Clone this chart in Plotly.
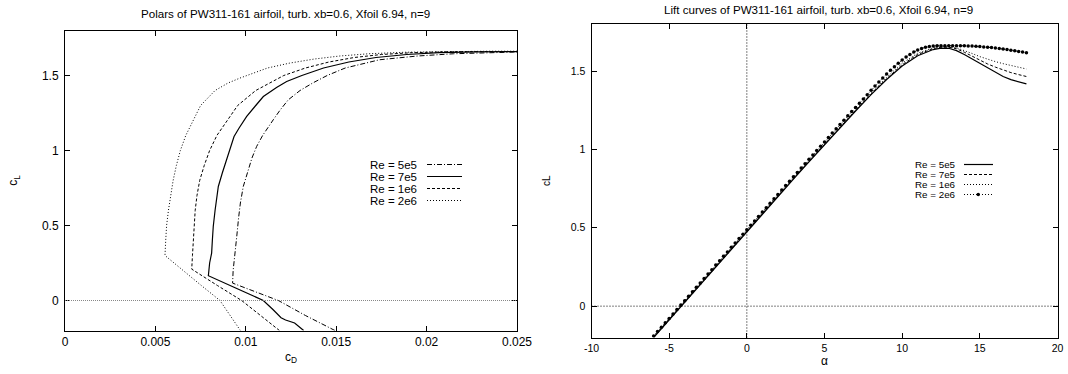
import plotly.graph_objects as go

# ---------------- data: polars (cD vs cL) ----------------
re_labels = ["Re = 5e5", "Re = 7e5", "Re = 1e6", "Re = 2e6"]

cd_5e5 = [0.01493, 0.0133, 0.0118, 0.0105, 0.00927, 0.0093, 0.0094, 0.0095, 0.0096, 0.0097, 0.00986,
          0.01008, 0.01034, 0.0106, 0.01093, 0.01152, 0.0119, 0.01235, 0.0130, 0.0137, 0.0145, 0.0155,
          0.0174, 0.0195, 0.0215, 0.0248, 0.0270]
cl_5e5 = [-0.20, -0.10, 0.0, 0.06, 0.116, 0.20, 0.30, 0.427, 0.55, 0.65, 0.76,
          0.85, 0.95, 1.027, 1.10, 1.205, 1.27, 1.338, 1.40, 1.45, 1.50, 1.55,
          1.605, 1.63, 1.645, 1.656, 1.66]

cd_7e5 = [0.0132, 0.0127, 0.0122, 0.01195, 0.0115, 0.01097, 0.0095, 0.00793, 0.0080, 0.00811, 0.00815,
          0.0082, 0.0083, 0.0084, 0.00848, 0.0087, 0.00894, 0.0091, 0.00935, 0.00963, 0.01005, 0.01055,
          0.01097, 0.0117, 0.01226, 0.0131, 0.0143, 0.0157, 0.0172, 0.0189, 0.0207, 0.0228, 0.0260]
cl_7e5 = [-0.20, -0.15, -0.13, -0.115, -0.06, 0.0, 0.08, 0.165, 0.25, 0.316, 0.40,
          0.493, 0.60, 0.70, 0.76, 0.85, 0.938, 1.0, 1.093, 1.15, 1.227, 1.30,
          1.36, 1.42, 1.46, 1.50, 1.55, 1.59, 1.62, 1.64, 1.652, 1.658, 1.66]

cd_1e6 = [0.01186, 0.01081, 0.00977, 0.00843, 0.00701, 0.00705, 0.0071, 0.00714, 0.0072, 0.0073, 0.00745,
          0.0077, 0.0080, 0.0084, 0.00895, 0.00955, 0.01055, 0.0113, 0.0121, 0.0133, 0.0146, 0.0160,
          0.0175, 0.0192, 0.0210, 0.0235, 0.0260]
cl_1e6 = [-0.20, -0.10, 0.0, 0.10, 0.209, 0.30, 0.40, 0.50, 0.60, 0.70, 0.80,
          0.90, 1.0, 1.10, 1.20, 1.30, 1.40, 1.45, 1.50, 1.55, 1.59, 1.62,
          1.64, 1.652, 1.658, 1.66, 1.66]

cd_2e6 = [0.0097, 0.00913, 0.00857, 0.00754, 0.00653, 0.00553, 0.00557, 0.00562, 0.00572, 0.00583, 0.00598,
          0.00616, 0.00638, 0.00668, 0.0071, 0.0075, 0.0083, 0.00902, 0.00968, 0.0105, 0.0112, 0.01244,
          0.0138, 0.0152, 0.0168, 0.0188, 0.0210, 0.0235, 0.0260]
cl_2e6 = [-0.20, -0.10, 0.0, 0.10, 0.20, 0.30, 0.40, 0.50, 0.60, 0.70, 0.80,
          0.90, 1.0, 1.10, 1.20, 1.30, 1.40, 1.45, 1.483, 1.52, 1.55, 1.583,
          1.61, 1.63, 1.645, 1.655, 1.66, 1.662, 1.662]

# ---------------- data: lift curves (alpha vs cL) ----------------
alpha_5e5 = [-6, -5, -4, -3, -2, -1, 0, 1, 2, 3, 4, 5, 6, 7, 8, 9, 10, 11, 12, 12.5,
             13, 13.5, 14, 14.5, 15, 15.5, 16, 16.5, 17, 17.5, 18]
cla_5e5 = [-0.20, -0.087, 0.026, 0.139, 0.252, 0.364, 0.476, 0.588, 0.699, 0.810, 0.920, 1.030, 1.138,
           1.245, 1.349, 1.446, 1.532, 1.598, 1.637, 1.646,
           1.645, 1.630, 1.605, 1.577, 1.548, 1.517, 1.490, 1.465, 1.445, 1.430, 1.418]

alpha_7e5 = [-6, -5, -4, -3, -2, -1, 0, 1, 2, 3, 4, 5, 6, 7, 8, 9, 10, 11, 12, 12.5,
             13, 13.5, 14, 14.5, 15, 15.5, 16, 16.5, 17, 17.5, 18]
cla_7e5 = [-0.197, -0.084, 0.029, 0.142, 0.255, 0.367, 0.479, 0.591, 0.702, 0.813, 0.923, 1.033, 1.141,
           1.248, 1.353, 1.451, 1.540, 1.606, 1.643, 1.652,
           1.652, 1.642, 1.620, 1.595, 1.568, 1.545, 1.525, 1.507, 1.490, 1.477, 1.465]

alpha_1e6 = [-6, -5, -4, -3, -2, -1, 0, 1, 2, 3, 4, 5, 6, 7, 8, 9, 10, 11, 12, 12.5,
             13, 13.5, 14, 14.5, 15, 15.5, 16, 16.5, 17, 17.5, 18]
cla_1e6 = [-0.194, -0.081, 0.032, 0.145, 0.258, 0.370, 0.482, 0.594, 0.706, 0.817, 0.927, 1.037, 1.146,
           1.254, 1.360, 1.460, 1.550, 1.614, 1.649, 1.656,
           1.656, 1.648, 1.632, 1.612, 1.592, 1.575, 1.560, 1.547, 1.535, 1.524, 1.513]

alpha_2e6 = [-6, -5.75, -5.5, -5.25, -5, -4.75, -4.5, -4.25, -4, -3.75, -3.5, -3.25, -3, -2.75,
             -2.5, -2.25, -2, -1.75, -1.5, -1.25, -1, -0.75, -0.5, -0.25, 0, 0.25, 0.5, 0.75,
             1, 1.25, 1.5, 1.75, 2, 2.25, 2.5, 2.75, 3, 3.25, 3.5, 3.75, 4, 4.25, 4.5, 4.75,
             5, 5.25, 5.5, 5.75, 6, 6.25, 6.5, 6.75, 7, 7.25, 7.5, 7.75, 8, 8.25, 8.5, 8.75,
             9, 9.25, 9.5, 9.75, 10, 10.25, 10.5, 10.75, 11, 11.25, 11.5, 11.75, 12, 12.25,
             12.5, 12.75, 13, 13.25, 13.5, 13.75, 14, 14.25, 14.5, 14.75, 15, 15.25, 15.5,
             15.75, 16, 16.25, 16.5, 16.75, 17, 17.25, 17.5, 17.75, 18]
cla_2e6 = [-0.190, -0.162, -0.134, -0.106, -0.078, -0.050, -0.022, 0.007, 0.035, 0.063, 0.092,
           0.120, 0.148, 0.176, 0.205, 0.233, 0.262, 0.290, 0.318, 0.346, 0.375, 0.403, 0.431,
           0.459, 0.488, 0.516, 0.544, 0.572, 0.600, 0.628, 0.657, 0.685, 0.713, 0.741, 0.769,
           0.797, 0.825, 0.853, 0.881, 0.909, 0.937, 0.965, 0.993, 1.020, 1.048, 1.076, 1.104,
           1.131, 1.159, 1.186, 1.214, 1.241, 1.268, 1.295, 1.322, 1.349, 1.377, 1.404, 1.430,
           1.456, 1.481, 1.505, 1.528, 1.550, 1.570, 1.589, 1.606, 1.621, 1.634, 1.644, 1.651,
           1.656, 1.659, 1.661, 1.662, 1.662, 1.662, 1.662, 1.662, 1.662, 1.661, 1.660, 1.659,
           1.658, 1.656, 1.654, 1.652, 1.650, 1.647, 1.644, 1.641, 1.637, 1.633, 1.629, 1.625,
           1.621, 1.616]

# ---------------- axes ticks ----------------
cd_ticks = [0, 0.005, 0.01, 0.015, 0.02, 0.025]
cd_ticktext = ["0", "0.005", "0.01", "0.015", "0.02", "0.025"]
cl_ticks = [0, 0.5, 1, 1.5]
cl_ticktext = ["0", "0.5", "1", "1.5"]
alpha_ticks = [-10, -5, 0, 5, 10, 15, 20]
alpha_ticktext = ["-10", "-5", "0", "5", "10", "15", "20"]

W, H = 1068, 374
FONT = "Liberation Sans, Arial, Helvetica, sans-serif"

def px(x):
    return x / W

def py(y):
    return 1 - y / H

polar_series = [
    (cd_5e5, cl_5e5, dict(color="black", width=1, dash="5px,2px,1px,2px")),
    (cd_7e5, cl_7e5, dict(color="black", width=1.2)),
    (cd_1e6, cl_1e6, dict(color="black", width=1, dash="3px,2px")),
    (cd_2e6, cl_2e6, dict(color="black", width=1, dash="1px,2px")),
]
lift_series = [
    (alpha_5e5, cla_5e5, dict(color="black", width=1.2), None),
    (alpha_7e5, cla_7e5, dict(color="black", width=1, dash="3px,2px"), None),
    (alpha_1e6, cla_1e6, dict(color="black", width=1, dash="1px,2px"), None),
    (alpha_2e6, cla_2e6, dict(color="black", width=1, dash="1px,2px"), dict(size=3.5, color="black")),
]

fig = go.Figure()
for (x, y, ln), name in zip(polar_series, re_labels):
    fig.add_trace(go.Scatter(x=x, y=y, mode="lines", line=ln, name=name,
                             xaxis="x", yaxis="y", showlegend=False))
for (x, y, ln, mk), name in zip(lift_series, re_labels):
    fig.add_trace(go.Scatter(x=x, y=y, mode="lines+markers" if mk else "lines", line=ln,
                             marker=mk, name=name, xaxis="x2", yaxis="y2", showlegend=False))

def axis(size, **kw):
    d = dict(showline=True, linecolor="black", linewidth=1, mirror="ticks",
             ticks="inside", ticklen=5, tickcolor="black", tickwidth=1,
             showgrid=False, zeroline=False, automargin=False,
             tickfont=dict(family=FONT, size=size, color="black"))
    d.update(kw)
    return d

fig.update_layout(
    width=W, height=H,
    margin=dict(l=0, r=0, t=0, b=0, autoexpand=False),
    paper_bgcolor="white", plot_bgcolor="white",
    showlegend=False,
    xaxis=axis(12, domain=[px(65), px(517)], range=[0, 0.025], tickvals=cd_ticks, ticktext=cd_ticktext,
               anchor="y", ticklabelstandoff=0,
               title=dict(text="c<sub>D</sub>", standoff=4, font=dict(family=FONT, size=12, color="black"))),
    yaxis=axis(12, domain=[py(330.5), py(30.5)], range=[-0.2, 1.8], tickvals=cl_ticks, ticktext=cl_ticktext,
               anchor="x", ticklabelstandoff=3,
               title=dict(text="c<sub>L</sub>", standoff=21, font=dict(family=FONT, size=12, color="black"))),
    xaxis2=axis(10.5, domain=[px(591.5), px(1057.5)], range=[-10, 20], tickvals=alpha_ticks,
                ticktext=alpha_ticktext, anchor="y2", ticklabelstandoff=1,
                title=dict(text="α", standoff=2, font=dict(family=FONT, size=12, color="black"))),
    yaxis2=axis(10.5, domain=[py(337.5), py(24)], range=[-0.2, 1.8], tickvals=cl_ticks, ticktext=cl_ticktext,
                anchor="x2", ticklabelstandoff=3,
                title=dict(text="cL", standoff=18, font=dict(family=FONT, size=10, color="black"))),
)

# reference (zero) lines
fig.add_shape(type="line", xref="x domain", yref="y", x0=0, x1=1, y0=0, y1=0,
              line=dict(color="#888888", width=1, dash="1px,1px"))
fig.add_shape(type="line", xref="x2 domain", yref="y2", x0=0, x1=1, y0=0, y1=0,
              line=dict(color="black", width=1, dash="1px,2px"))
fig.add_shape(type="line", xref="x2", yref="y2 domain", x0=0, x1=0, y0=0, y1=1,
              line=dict(color="black", width=1, dash="1px,2px"))

# titles
ann = []
ann.append(dict(text="Polars of PW311-161 airfoil, turb. xb=0.6, Xfoil 6.94, n=9",
                x=px(285), y=py(13), xref="paper", yref="paper", showarrow=False,
                xanchor="center", yanchor="middle", font=dict(family=FONT, size=11.6, color="black")))
ann.append(dict(text="Lift curves of PW311-161 airfoil, turb. xb=0.6, Xfoil 6.94, n=9",
                x=px(818), y=py(10), xref="paper", yref="paper", showarrow=False,
                xanchor="center", yanchor="middle", font=dict(family=FONT, size=11.6, color="black")))

# custom gnuplot-style legends (text right, sample at right)
left_rows = [164.5, 176.5, 188.5, 200.5]
for label, yy, (x_, y_, ln) in zip(re_labels, left_rows, polar_series):
    ann.append(dict(text=label, x=px(418), y=py(yy), xref="paper", yref="paper", showarrow=False,
                    xanchor="right", yanchor="middle", borderpad=0,
                    font=dict(family=FONT, size=11.5, color="black")))
    fig.add_shape(type="line", xref="paper", yref="paper", x0=px(427), x1=px(462),
                  y0=py(yy), y1=py(yy), line=ln)

right_rows = [164.5, 174.5, 184.5, 194.5]
for label, yy, (x_, y_, ln, mk) in zip(re_labels, right_rows, lift_series):
    ann.append(dict(text=label, x=px(957), y=py(yy), xref="paper", yref="paper", showarrow=False,
                    xanchor="right", yanchor="middle", borderpad=0,
                    font=dict(family=FONT, size=9.8, color="black")))
    fig.add_shape(type="line", xref="paper", yref="paper", x0=px(964), x1=px(993),
                  y0=py(yy), y1=py(yy), line=ln)
    if mk:
        fig.add_shape(type="circle", xref="paper", yref="paper", x0=px(976.5), x1=px(980),
                      y0=py(yy + 1.75), y1=py(yy - 1.75), fillcolor="black", line=dict(width=0))

fig.update_layout(annotations=ann)

fig.write_html("out.html", config={"displayModeBar": False},
               post_script="document.body.style.margin='0';")
